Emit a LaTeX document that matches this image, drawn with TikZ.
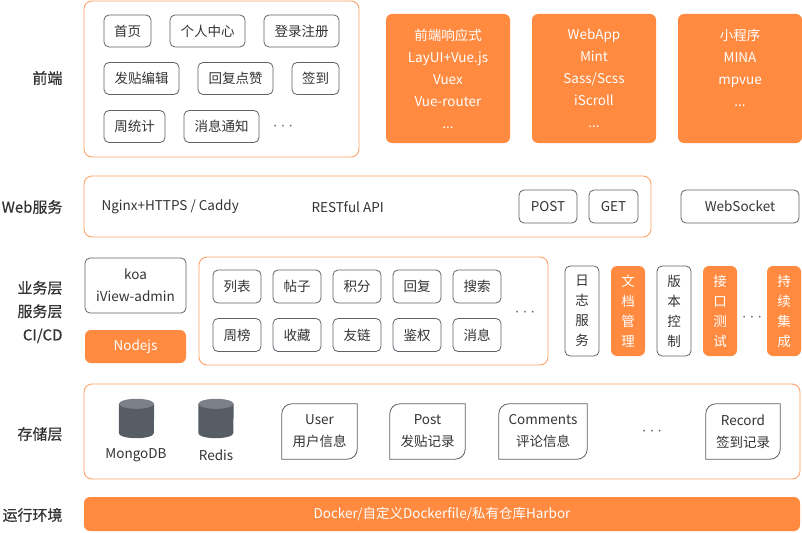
\documentclass[tikz,border=0pt]{standalone}
\usepackage{fontspec}
\setmainfont{Noto Sans CJK SC}
\newfontfamily\sidefont[FakeBold=0.5]{Noto Sans CJK SC}
\definecolor{layorange}{HTML}{FFA266}
\definecolor{tagorange}{HTML}{FF8A40}
\definecolor{boxgray}{HTML}{5C636A}
\definecolor{txtdark}{HTML}{333333}
\definecolor{dbgray}{HTML}{565D64}
\definecolor{dbtop}{HTML}{7B8188}

\begin{document}
\begin{tikzpicture}[x=1pt,y=-1pt,
	layer/.style={draw=layorange, line width=0.9pt, rounded corners=8pt},
	item/.style={draw=boxgray, line width=0.8pt, rounded corners=5pt, text=txtdark, inner sep=0pt, font=\fontsize{13.5}{16}\selectfont},
	tag/.style={fill=tagorange, rounded corners=6pt, text=white, inner sep=0pt, align=center, font=\fontsize{13.5}{22}\selectfont},
	vbox/.style={item, minimum width=34pt, minimum height=90pt, align=center, font=\fontsize{13.5}{20}\selectfont},
	vtag/.style={tag, minimum width=34pt, minimum height=90pt, font=\fontsize{13.5}{20}\selectfont},
	side/.style={anchor=east, text=txtdark, align=right, font=\fontsize{15}{23.5}\selectfont\sidefont},
	plain/.style={text=txtdark, font=\fontsize{13.5}{22}\selectfont, align=center},
	dots/.style={text=boxgray, font=\fontsize{17}{18}\selectfont},
	doc/.style={text=txtdark, inner sep=0pt, align=center, font=\fontsize{13.5}{22}\selectfont},
	db/.style={minimum width=35pt, minimum height=39pt, inner sep=0pt}]
	\useasboundingbox (0,0) rectangle (802,532);

	% side labels
	\node[side] (lfe)  at (66,78)  {前端};
	\node[side] (lweb) at (66,207) {Web服务};
	\node[side] (lsrv) at (66,312) {业务层\\服务层\\CI/CD};
	\node[side] (lsto) at (66,434) {存储层};
	\node[side] (lrun) at (66,515) {运行环境};

	% front end
	\draw[layer] (84,1) rectangle (359,157);
	\node[item, minimum width=47pt, minimum height=32pt] (home)   at (127.5,31)   {首页};
	\node[item, minimum width=75pt, minimum height=32pt] (user)   at (207.5,31)   {个人中心};
	\node[item, minimum width=75pt, minimum height=32pt] (login)  at (301.5,31)   {登录注册};
	\node[item, minimum width=75pt, minimum height=32pt] (edit)   at (141.5,78.5) {发贴编辑};
	\node[item, minimum width=75pt, minimum height=32pt] (reply)  at (235.5,78.5) {回复点赞};
	\node[item, minimum width=47pt, minimum height=32pt] (sign)   at (315.5,78.5) {签到};
	\node[item, minimum width=61pt, minimum height=32pt] (stat)   at (134.5,126.5) {周统计};
	\node[item, minimum width=75pt, minimum height=32pt] (notice) at (221.5,126.5) {消息通知};
	\node[dots] (fedots) at (283,127) {$\cdots$};

	\node[tag, minimum width=124pt, minimum height=129pt] (resp) at (448,78.5) {前端响应式\\LayUI+Vue.js\\Vuex\\Vue-router\\...};
	\node[tag, minimum width=124pt, minimum height=129pt] (webapp) at (594,78.5) {WebApp\\Mint\\Sass/Scss\\iScroll\\...};
	\node[tag, minimum width=124pt, minimum height=129pt] (mini) at (740,78.5) {小程序\\MINA\\mpvue\\...\\\mbox{}};

	% web
	\draw[layer] (84,176) rectangle (651,237);
	\node[plain, anchor=west] (nginx) at (98,207)  {Nginx+HTTPS / Caddy};
	\node[plain, anchor=west] (rest)  at (308,207) {RESTful API};
	\node[item, minimum width=58pt, minimum height=33pt] (post) at (548,206.5) {POST};
	\node[item, minimum width=49pt, minimum height=33pt] (get)  at (613.5,206.5) {GET};
	\node[item, minimum width=118pt, minimum height=33pt] (ws) at (740,206.5) {WebSocket};

	% service
	\node[item, minimum width=101pt, minimum height=55pt, align=center, font=\fontsize{13.5}{22}\selectfont] (koa) at (135.5,285.5) {koa\\iView-admin};
	\node[tag, minimum width=101pt, minimum height=33pt] (node) at (135.5,346.5) {Nodejs};
	\draw[layer] (199,257) rectangle (548,365);
	\foreach \t [count=\i] in {列表,帖子,积分,回复,搜索}
		\node[item, minimum width=48pt, minimum height=33pt] (ma\i) at (177+60*\i,286.5) {\t};
	\foreach \t [count=\i] in {周榜,收藏,友链,鉴权,消息}
		\node[item, minimum width=48pt, minimum height=33pt] (mb\i) at (177+60*\i,335) {\t};
	\node[dots] (srvdots) at (525,313) {$\cdots$};
	\node[vbox] (log) at (582,311) {日\\志\\服\\务};
	\node[vtag] (docs) at (628,311) {文\\档\\管\\理};
	\node[vbox] (vcs) at (674,311) {版\\本\\控\\制};
	\node[vtag] (api) at (720,311) {接\\口\\测\\试};
	\node[dots] (cidots) at (752,318) {$\cdots$};
	\node[vtag] (ci) at (784,311) {持\\续\\集\\成};

	% storage
	\draw[layer] (84,384) rectangle (800,479);
	\node[db] (mongo) at (136.5,418.5) {};
	\node[db] (redis) at (216,418.5) {};
	\foreach \n in {mongo,redis} {
		\fill[dbgray] ([yshift=-5pt]\n.north west) -- ([yshift=5pt]\n.south west) arc[start angle=180, end angle=360, x radius=17.5pt, y radius=5pt] -- ([yshift=-5pt]\n.north east) -- cycle;
		\fill[dbtop] ([yshift=-5pt]\n.north) ellipse[x radius=17.5pt, y radius=5pt];
	}
	\node[plain] (lmongo) at (136,455) {MongoDB};
	\node[plain] (lredis) at (216,455) {Redis};
	\node[doc, minimum width=75pt, minimum height=55pt] (tuser) at (319.5,431.5) {User\\用户信息};
	\node[doc, minimum width=75pt, minimum height=55pt] (tpost) at (427.5,431.5) {Post\\发贴记录};
	\node[doc, minimum width=88pt, minimum height=55pt] (tcomm) at (543,431.5) {Comments\\评论信息};
	\node[dots] (stodots) at (652,432) {$\cdots$};
	\node[doc, minimum width=74pt, minimum height=55pt] (trec) at (743,431.5) {Record\\签到记录};
	\foreach \n in {tuser,tpost,tcomm,trec}
		\draw[draw=boxgray, line width=0.8pt] (\n.south west) -- ([yshift=-10pt]\n.north west) arc[start angle=180, end angle=90, radius=10pt] -- (\n.north east) -- ([yshift=10pt]\n.south east) arc[start angle=0, end angle=-90, radius=10pt] -- cycle;

	% runtime
	\node[tag, minimum width=716pt, minimum height=34pt] (run) at (442,514) {Docker/自定义Dockerfile/私有仓库Harbor};
\end{tikzpicture}
\end{document}
